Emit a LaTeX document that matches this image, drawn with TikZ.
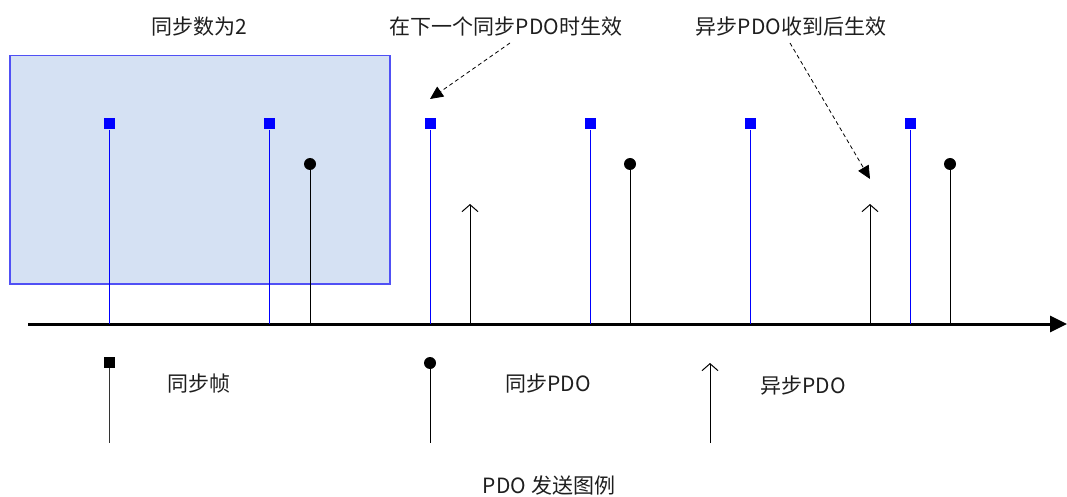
\documentclass[tikz,border=0pt]{standalone}
\usepackage{fontspec}
\setmainfont{Noto Sans CJK SC}
\usetikzlibrary{arrows.meta}
\definecolor{boxfill}{RGB}{213,225,243}
\definecolor{boxline}{RGB}{80,80,245}
\definecolor{txt}{RGB}{30,30,30}
\begin{document}
\begin{tikzpicture}[x=1pt,y=-1pt,
  lbl/.style={inner sep=0pt,text=txt,font=\fontsize{21}{25}\selectfont},
  syncsq/.style={fill=blue,inner sep=0pt,minimum size=11pt},
  blksq/.style={fill=black,inner sep=0pt,minimum size=11pt},
  pdodot/.style={circle,fill=black,inner sep=0pt,minimum size=12pt},
  syncline/.style={draw=blue,line width=1pt},
  blkline/.style={draw=black,line width=1pt},
  asyncarr/.style={draw=black,line width=1pt,-{Straight Barb[length=7pt,width=16pt]}},
  hintarr/.style={draw=black,line width=0.8pt,dashed,dash pattern=on 4pt off 3pt,-{Triangle[length=13pt,width=12pt]}}
]
\useasboundingbox (0,0) rectangle (1067,497);
% group box
\node[draw=boxline,line width=1.5pt,fill=boxfill,inner sep=0pt,minimum width=380pt,minimum height=228pt,anchor=north west] (grp) at (9,55) {};
% axis
\coordinate (ax0) at (28,324);
\coordinate (ax1) at (1067,324);
\draw[line width=3pt,-{Triangle[length=17pt,width=16pt]}] (ax0) -- (ax1);
% sync frames
\foreach \i/\x in {1/109,2/269,3/430,4/590,5/750,6/910}{
  \node[syncsq] (s\i) at (\x,124) {};
  \coordinate (sa\i) at (\x,324);
  \draw[syncline] (s\i.south) -- (sa\i);
}
% sync PDO
\foreach \i/\x in {1/310,2/630,3/950}{
  \node[pdodot] (p\i) at (\x,164) {};
  \coordinate (pa\i) at (\x,324);
  \draw[blkline] (p\i.south) -- (pa\i);
}
% async PDO
\foreach \i/\x in {1/470,2/870}{
  \coordinate (ab\i) at (\x,324);
  \coordinate (at\i) at (\x,204);
  \draw[asyncarr] (ab\i) -- (at\i);
}
% labels
\node[lbl] (t1) at (199,27) {同步数为2};
\node[lbl] (t2) at (506,27) {在下一个同步PDO时生效};
\node[lbl] (t3) at (791,27) {异步PDO收到后生效};
\coordinate (h1s) at (510,43);
\coordinate (h1e) at (430,99);
\coordinate (h2s) at (790,43);
\coordinate (h2e) at (870,179);
\draw[hintarr] (h1s) -- (h1e);
\draw[hintarr] (h2s) -- (h2e);
% legend
\node[blksq] (lg1) at (109,362) {};
\coordinate (lg1b) at (109,443);
\draw[line width=1pt,draw=black!80] (lg1.south) -- (lg1b);
\node[lbl] (lt1) at (199,384) {同步帧};
\node[pdodot] (lg2) at (430,363) {};
\coordinate (lg2b) at (430,443);
\draw[blkline] (lg2.south) -- (lg2b);
\node[lbl] (lt2) at (548,384) {同步PDO};
\coordinate (lg3b) at (710,443);
\coordinate (lg3t) at (710,363);
\draw[asyncarr] (lg3b) -- (lg3t);
\node[lbl] (lt3) at (803,386) {异步PDO};
\node[lbl] (cap) at (549,486) {PDO 发送图例};
\end{tikzpicture}
\end{document}
